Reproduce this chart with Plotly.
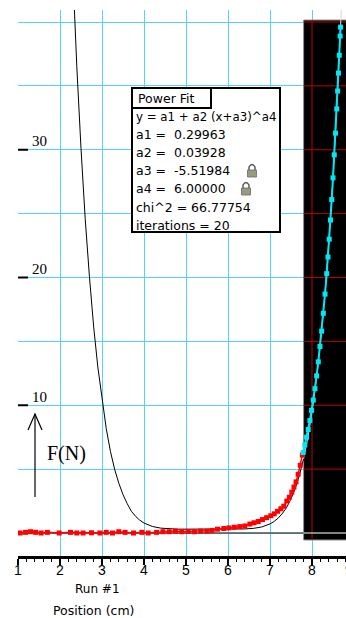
import plotly.graph_objects as go

# ---------------- data ----------------
red_x = [1.05, 1.18, 1.30, 1.42, 1.55, 1.70, 1.98, 2.25, 2.40, 2.55, 2.75, 2.95, 3.10, 3.25,
         3.40, 3.55, 3.75, 3.95, 4.10, 4.30, 4.45, 4.60, 4.75, 4.90, 5.05, 5.20, 5.35, 5.50,
         5.62, 5.75, 5.90, 6.02, 6.15, 6.28, 6.40, 6.52, 6.62, 6.72, 6.82, 6.92, 7.02, 7.10,
         7.18, 7.26, 7.33, 7.40, 7.46, 7.52, 7.57, 7.62, 7.67, 7.72, 7.77]
red_y = [0.00, 0.05, 0.10, 0.05, 0.00, 0.05, 0.00, 0.05, 0.00, 0.00, 0.02, 0.00, 0.05, 0.00,
         0.10, 0.05, 0.00, 0.05, 0.00, 0.05, 0.10, 0.10, 0.15, 0.10, 0.12, 0.10, 0.15, 0.15,
         0.20, 0.30, 0.35, 0.40, 0.45, 0.50, 0.55, 0.70, 0.80, 0.90, 1.05, 1.20, 1.35, 1.50,
         1.70, 1.90, 2.10, 2.50, 2.80, 3.20, 3.60, 4.00, 4.60, 5.30, 6.10]

cyan_x = [7.79, 7.83, 7.87, 7.91, 7.95, 7.99, 8.03, 8.07, 8.11, 8.15, 8.19, 8.23, 8.27, 8.31,
          8.35, 8.38, 8.41, 8.44, 8.47, 8.50, 8.53, 8.56, 8.59, 8.61, 8.63, 8.65, 8.67, 8.68]
cyan_y = [6.3, 6.9, 7.5, 8.1, 8.8, 9.6, 10.4, 11.3, 12.3, 13.4, 14.6, 15.8, 17.2, 18.7,
          20.3, 21.6, 23.0, 24.5, 26.1, 27.8, 29.6, 31.3, 33.2, 34.6, 36.0, 37.4, 38.9, 39.6]

# fit curve (Power Fit) points
fit_x = [2.34, 2.40, 2.50, 2.60, 2.70, 2.80, 2.90, 3.00, 3.10, 3.20, 3.30, 3.40, 3.50, 3.60,
         3.70, 3.80, 3.90, 4.00, 4.20, 4.40, 4.60, 4.80, 5.00, 5.50, 6.00, 6.20, 6.40, 6.60,
         6.80, 7.00, 7.10, 7.20, 7.30, 7.40, 7.50, 7.60, 7.70, 7.80]
fit_y = [41.2, 36.5, 30.1, 24.6, 20.1, 16.2, 13.0, 10.4, 8.2, 6.4, 5.0, 3.9, 3.0, 2.3,
         1.7, 1.3, 1.0, 0.78, 0.51, 0.38, 0.32, 0.30, 0.30, 0.30, 0.30, 0.30, 0.32, 0.36,
         0.47, 0.71, 0.91, 1.18, 1.55, 2.03, 2.67, 3.48, 4.52, 5.82]
fit2_x = [7.80, 7.90, 8.00, 8.10, 8.20, 8.30, 8.40, 8.50, 8.60, 8.70]
fit2_y = [5.82, 7.44, 9.44, 11.88, 14.85, 18.43, 22.71, 27.81, 33.83, 41.15]

x_tick_vals = [1, 2, 3, 4, 5, 6, 7, 8, 9]
x_tick_text = ["1", "2", "3", "4", "5", "6", "7", "8", "9"]
y_tick_vals = [10, 20, 30]
y_tick_text = ["10", "20", "30"]

fit_lines = ["y = a1 + a2 (x+a3)^a4", "a1 =  0.29963", "a2 =  0.03928",
             "a3 =  -5.51984", "a4 =  6.00000", "chi^2 = 66.77754", "iterations = 20"]

# ---------------- layout helpers ----------------
W, H = 346, 618
ML, MR, MT, MB = 18, 0, 10, 62
PW, PH = W - ML - MR, H - MT - MB
PXU = 42.0          # pixels per x unit
PYU = 12.775        # pixels per y unit
Y0PX = 533          # pixel row of y = 0
XR = [1, 1 + PW / PXU]
YR = [-(H - MB - Y0PX) / PYU, (Y0PX - MT) / PYU]


def X(px):
    return 1 + (px - ML) / PXU


def Y(py):
    return (Y0PX - py) / PYU


def PX(px):
    return (px - ML) / PW


def PY(py):
    return (H - MB - py) / PH


GRID = "#55d4f0"
DARKRED = "#c00000"

fig = go.Figure()

fig.add_trace(go.Scatter(x=fit_x, y=fit_y, mode="lines",
                         line=dict(color="black", width=1), hoverinfo="skip"))
fig.add_trace(go.Scatter(x=fit2_x, y=fit2_y, mode="lines",
                         line=dict(color="#d8d8d8", width=1), hoverinfo="skip"))
fig.add_trace(go.Scatter(x=red_x, y=red_y, mode="lines+markers",
                         line=dict(color="#ff0000", width=1.5),
                         marker=dict(symbol="square", size=5, color="#ff0000")))
fig.add_trace(go.Scatter(x=cyan_x, y=cyan_y, mode="lines+markers",
                         line=dict(color="#00e8f4", width=2),
                         marker=dict(symbol="square", size=5, color="#00e8f4")))

shapes = []
# black selection region
bx0, by0, by1 = 7.8, Y(540), Y(20)
shapes.append(dict(type="rect", xref="x", yref="y", x0=bx0, x1=XR[1] + 0.1, y0=by0, y1=by1,
                   fillcolor="black", line=dict(color="#909090", width=1), layer="between"))
# red grid inside black
shapes.append(dict(type="line", xref="x", yref="y", x0=8, x1=8, y0=by0, y1=by1,
                   line=dict(color=DARKRED, width=1), layer="between"))
for gy in [5, 10, 15, 20, 25, 30, 35, 40]:
    shapes.append(dict(type="line", xref="x", yref="y", x0=bx0, x1=XR[1] + 0.1, y0=gy, y1=gy,
                       line=dict(color=DARKRED, width=1), layer="between"))
# y = 0 line
shapes.append(dict(type="line", xref="x", yref="y", x0=1, x1=bx0, y0=0, y1=0,
                   line=dict(color="#505050", width=1.5), layer="between"))
shapes.append(dict(type="line", xref="x", yref="y", x0=bx0, x1=XR[1] + 0.1, y0=0, y1=0,
                   line=dict(color="#b0b0b0", width=1.5), layer="between"))
# y tick marks
for tv in y_tick_vals:
    shapes.append(dict(type="line", xref="x", yref="y", x0=1, x1=X(28), y0=tv, y1=tv,
                       line=dict(color="black", width=2), layer="above"))
# F(N) arrow
shapes.append(dict(type="line", xref="x", yref="y", x0=X(35), x1=X(35), y0=Y(497), y1=Y(414),
                   line=dict(color="black", width=1.2)))
shapes.append(dict(type="path", xref="x", yref="y",
                   path=f"M {X(28)},{Y(430)} L {X(35)},{Y(414)} L {X(42)},{Y(430)}",
                   line=dict(color="black", width=1.2)))
# fit box
shapes.append(dict(type="rect", xref="x", yref="y", x0=X(132), x1=X(280), y0=Y(232), y1=Y(88),
                   fillcolor="white", line=dict(color="black", width=2), layer="above"))
shapes.append(dict(type="rect", xref="x", yref="y", x0=X(132), x1=X(211), y0=Y(108), y1=Y(88),
                   fillcolor="white", line=dict(color="black", width=2), layer="above"))
# lock icons
for cx, cy in [(252, 171), (246, 189)]:
    shapes.append(dict(type="path", xref="x", yref="y",
                       path=(f"M {X(cx-3)},{Y(cy-1)} L {X(cx-3)},{Y(cy-4)} "
                             f"Q {X(cx)},{Y(cy-9)} {X(cx+3)},{Y(cy-4)} L {X(cx+3)},{Y(cy-1)}"),
                       line=dict(color="#505050", width=1.4), layer="above"))
    shapes.append(dict(type="rect", xref="x", yref="y", x0=X(cx-4.5), x1=X(cx+4.5),
                       y0=Y(cy+6), y1=Y(cy-1), fillcolor="#9a9a82",
                       line=dict(color="#6a6a60", width=0.8), layer="above"))

annotations = []
# x tick labels
for tv, tt in zip(x_tick_vals, x_tick_text):
    px = ML + (tv - 1) * PXU
    if tv == 9:
        px = 349
    annotations.append(dict(xref="paper", yref="paper", x=PX(px), y=PY(570), text=tt,
                            showarrow=False, xanchor="center", yanchor="middle",
                            font=dict(family="Liberation Sans", size=14, color="black")))
# y tick labels
for tv, tt in zip(y_tick_vals, y_tick_text):
    annotations.append(dict(xref="x", yref="y", x=X(30), y=tv + Y(141) - 30, text=tt,
                            showarrow=False, xanchor="left", yanchor="middle",
                            font=dict(family="Liberation Serif", size=15, color="black")))
annotations.append(dict(xref="x", yref="y", x=X(66), y=Y(453), text="F(N)", showarrow=False,
                        xanchor="center", yanchor="middle",
                        font=dict(family="Liberation Serif", size=20, color="black")))
# box text
annotations.append(dict(xref="x", yref="y", x=X(136), y=Y(98), text="Power Fit", showarrow=False,
                        xanchor="left", yanchor="middle",
                        font=dict(family="DejaVu Sans", size=12.5, color="black")))
for i, t in enumerate(fit_lines):
    py = [117, 134, 152, 170, 188, 207, 225][i]
    annotations.append(dict(xref="x", yref="y", x=X(134), y=Y(py), text=t, showarrow=False,
                            xanchor="left", yanchor="middle",
                            font=dict(family="DejaVu Sans", size=11.8 if i == 0 else 12.5,
                                      color="black")))
# axis captions
annotations.append(dict(xref="paper", yref="paper", x=PX(97), y=PY(589),
                        text="Run #1", showarrow=False, xanchor="center", yanchor="middle",
                        font=dict(family="DejaVu Sans", size=12, color="black")))
annotations.append(dict(xref="paper", yref="paper", x=PX(93), y=PY(610),
                        text="Position (cm)", showarrow=False, xanchor="center", yanchor="middle",
                        font=dict(family="DejaVu Sans", size=12.5, color="black")))

fig.update_layout(
    width=W, height=H,
    margin=dict(l=ML, r=MR, t=MT, b=MB, pad=0),
    paper_bgcolor="white", plot_bgcolor="white",
    showlegend=False,
    shapes=shapes, annotations=annotations,
    xaxis=dict(range=XR, showgrid=True, gridcolor=GRID, gridwidth=1,
               tickvals=x_tick_vals, showticklabels=False,
               showline=True, linecolor="black", linewidth=2.5,
               ticks="outside", ticklen=6, tickwidth=1.5, tickcolor="black",
               minor=dict(dtick=0.2, tick0=1, ticks="outside", ticklen=3, tickwidth=1.2,
                          tickcolor="black", showgrid=False),
               zeroline=False, fixedrange=True),
    yaxis=dict(range=YR, showgrid=True, gridcolor=GRID, gridwidth=1, dtick=5, tick0=0,
               showticklabels=False, ticks="", showline=False, zeroline=False, fixedrange=True),
)

fig.write_html("out.html", config={"displayModeBar": False},
               post_script="document.body.style.margin='0';document.body.style.padding='0';")
